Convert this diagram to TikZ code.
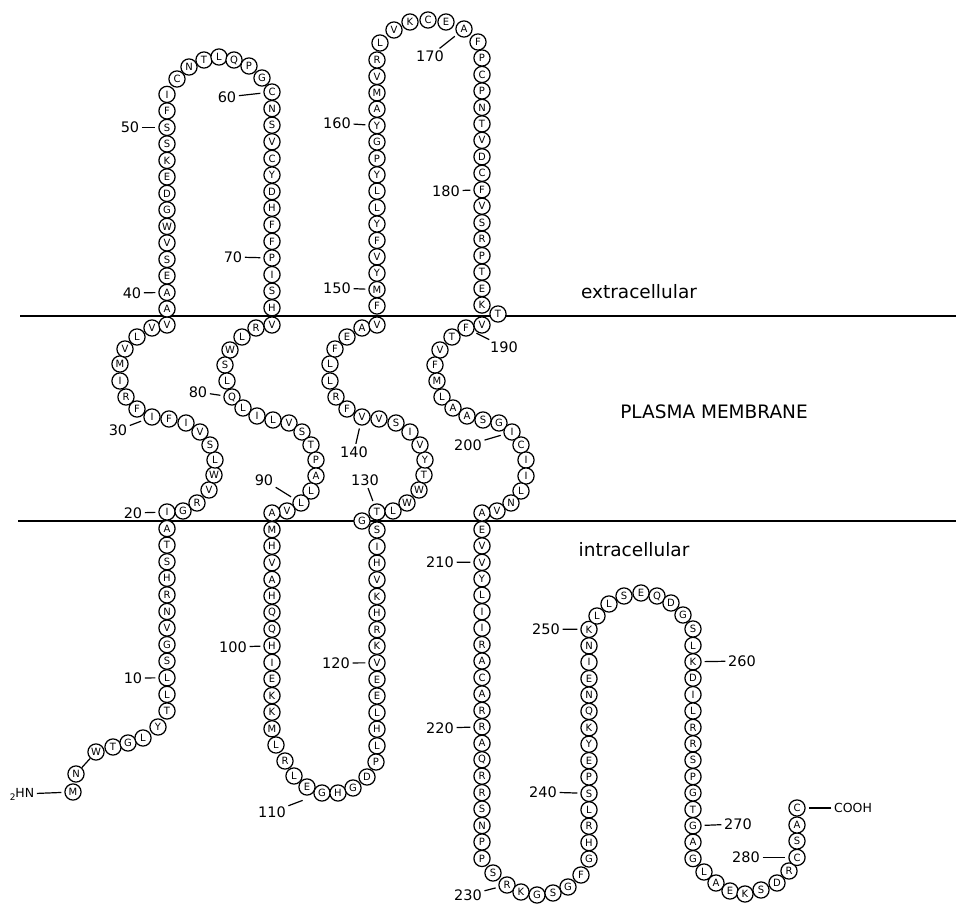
\documentclass[tikz,border=0pt]{standalone}
\usepackage{fontspec}
\setmainfont{DejaVu Sans}
\begin{document}
\begin{tikzpicture}[x=1pt,y=-1pt,
  res/.style={circle,draw,line width=1.25pt,fill=white,minimum size=16.2pt,inner sep=0pt,font=\fontsize{10}{10}\selectfont},
  num/.style={inner sep=1pt,font=\fontsize{14.5}{14.5}\selectfont},
  tick/.style={line width=1.2pt,shorten <=1.5pt,shorten >=3pt},
  link/.style={line width=1.2pt},
  memb/.style={line width=1.4pt},
  region/.style={inner sep=0pt,font=\fontsize{18.5}{19}\selectfont}]
\useasboundingbox (0,0) rectangle (956,905);
% membrane
\draw[memb] (20,316) -- (956,316);
\draw[memb] (18,521) -- (956,521);
% N-terminal tail
\foreach \n/\l/\x/\y in {1/M/73/792, 2/N/76/774, 3/W/96/752, 4/T/113/747, 5/G/128/743, 6/L/143/738, 7/Y/158/727}
  \node[res] (r\n) at (\x,\y) {\l};
\foreach \n/\l in {8/T,9/L,10/L,11/S,12/G,13/V,14/N,15/R,16/H,17/S,18/T,19/A}
  \node[res] (r\n) at (167,{512+(20-\n)*16.58}) {\l};
% TM1
\foreach \n/\l/\x/\y in {20/I/167/512, 21/G/183/511, 22/R/197/503, 23/V/209/490, 24/W/214/475, 25/L/215/460, 26/S/210/445, 27/V/200/432, 28/I/186/423, 29/F/169/419, 30/I/152/417, 31/F/137/409, 32/R/126/397, 33/I/120/381, 34/M/120/364, 35/V/125/349, 36/L/137/337, 37/V/152/328, 38/V/167/325}
  \node[res] (r\n) at (\x,\y) {\l};
% extracellular loop 1
\foreach \n/\l in {39/A,40/A,41/E,42/S,43/V,44/W,45/G,46/D,47/E,48/K,49/S,50/S,51/F,52/I}
  \node[res] (r\n) at (167,{325.4-(\n-38)*16.5}) {\l};
\foreach \n/\l/\x/\y in {53/C/177/79, 54/N/189/67, 55/T/204/60, 56/L/219/57, 57/Q/234/60, 58/P/249/66, 59/G/262/78}
  \node[res] (r\n) at (\x,\y) {\l};
\foreach \n/\l in {60/C,61/N,62/S,63/V,64/C,65/Y,66/D,67/H,68/F,69/F,70/P,71/I,72/S,73/H}
  \node[res] (r\n) at (272,{92+(\n-60)*16.6}) {\l};
% TM2
\foreach \n/\l/\x/\y in {74/V/272/325, 75/R/256/328, 76/L/242/337, 77/W/230/350, 78/S/225/365, 79/L/227/381, 80/Q/232/397, 81/L/243/408, 82/I/257/416, 83/L/273/420, 84/V/289/423, 85/S/302/432, 86/T/311/445, 87/P/316/460, 88/A/316/476, 89/L/311/491, 90/L/301/503, 91/V/287/511, 92/A/272/513}
  \node[res] (r\n) at (\x,\y) {\l};
% intracellular loop 2
\foreach \n/\l in {93/M,94/H,95/V,96/A,97/H,98/Q,99/Q,100/H,101/I,102/E,103/K,104/K,105/M}
  \node[res] (r\n) at (272,{513+(\n-92)*16.6}) {\l};
\foreach \n/\l/\x/\y in {106/L/276/745, 107/R/285/761, 108/L/294/776, 109/E/307/787, 110/G/322/793, 111/H/338/793, 112/G/353/788, 113/D/367/777, 114/P/376/762}
  \node[res] (r\n) at (\x,\y) {\l};
\foreach \n/\l in {115/L,116/H,117/L,118/E,119/E,120/V,121/K,122/R,123/H,124/K,125/V,126/H,127/I,128/S}
  \node[res] (r\n) at (377,{530+(128-\n)*16.6}) {\l};
\node[res] (r129) at (362,521) {G};
% TM3
\foreach \n/\l/\x/\y in {130/T/377/512, 131/L/393/511, 132/W/407/503, 133/W/419/490, 134/T/424/475, 135/Y/425/460, 136/V/420/445, 137/I/410/432, 138/S/396/423, 139/V/379/419, 140/V/362/417, 141/F/347/409, 142/R/336/397, 143/L/330/381, 144/L/330/364, 145/F/335/349, 146/E/347/337, 147/A/362/328, 148/V/377/325}
  \node[res] (r\n) at (\x,\y) {\l};
% extracellular loop 2
\foreach \n/\l in {149/F,150/M,151/Y,152/V,153/F,154/Y,155/L,156/L,157/Y,158/P,159/G,160/Y,161/A,162/M,163/V,164/R}
  \node[res] (r\n) at (377,{306-(\n-149)*16.4}) {\l};
\foreach \n/\l/\x/\y in {165/L/380/43, 166/V/394/30, 167/K/410/22, 168/C/428/20, 169/E/446/22, 170/A/464/29, 171/F/478/42}
  \node[res] (r\n) at (\x,\y) {\l};
\foreach \n/\l in {172/P,173/C,174/P,175/N,176/T,177/V,178/D,179/C,180/F,181/V,182/S,183/R,184/P,185/T,186/E,187/K}
  \node[res] (r\n) at (482,{58+(\n-172)*16.47}) {\l};
\node[res] (r188) at (498,314) {T};
% TM4
\foreach \n/\l/\x/\y in {189/V/482/325, 190/F/466/328, 191/T/452/337, 192/V/440/350, 193/F/435/365, 194/M/437/381, 195/L/442/397, 196/A/453/408, 197/A/467/416, 198/S/483/420, 199/G/499/423, 200/I/512/432, 201/C/521/445, 202/I/526/460, 203/I/526/476, 204/L/521/491, 205/N/511/503, 206/V/497/511, 207/A/482/513}
  \node[res] (r\n) at (\x,\y) {\l};
% intracellular loop 3
\foreach \n/\l in {208/E,209/V,210/V,211/Y,212/L,213/I,214/I,215/R,216/A,217/C,218/A,219/R,220/R,221/A,222/Q,223/R,224/R,225/S,226/N,227/P,228/P}
  \node[res] (r\n) at (482,{513+(\n-207)*16.45}) {\l};
\foreach \n/\l/\x/\y in {229/S/493/873, 230/R/507/885, 231/K/521/892, 232/G/537/895, 233/S/553/893, 234/G/568/887, 235/F/581/875}
  \node[res] (r\n) at (\x,\y) {\l};
\foreach \n/\l in {236/G,237/H,238/R,239/L,240/S,241/P,242/E,243/Y,244/K,245/Q,246/N,247/E,248/I,249/N,250/K}
  \node[res] (r\n) at (589,{859-(\n-236)*16.4}) {\l};
\foreach \n/\l/\x/\y in {251/L/597/616, 252/L/609/604, 253/S/624/596, 254/E/641/593, 255/Q/657/596, 256/D/671/603, 257/G/683/615}
  \node[res] (r\n) at (\x,\y) {\l};
% C-terminal tail
\foreach \n/\l in {258/S,259/L,260/K,261/D,262/I,263/L,264/R,265/R,266/S,267/P,268/G,269/T,270/G,271/A,272/G}
  \node[res] (r\n) at (693,{629+(\n-258)*16.4}) {\l};
\foreach \n/\l/\x/\y in {273/L/704/872, 274/A/716/883, 275/E/730/891, 276/K/745/894, 277/S/761/890, 278/D/777/883, 279/R/789/871, 280/C/797/857.4, 281/S/797/841, 282/A/797/825, 283/C/797/808}
  \node[res] (r\n) at (\x,\y) {\l};
% chain link
\draw[link] (r2) -- (r3);
% termini
\node[num,font=\fontsize{12.5}{13}\selectfont] (nterm) at (22,794) {\raisebox{-0.45ex}{\fontsize{9}{9}\selectfont 2}HN};
\draw[tick] (nterm) -- (r1);
\node[num,font=\fontsize{12.5}{13}\selectfont] (cterm) at (853,808) {COOH};
\draw[tick] (cterm) -- (r283);
% position labels
\foreach \n/\x/\y in {10/133/678, 20/133/513, 30/118/430, 40/132/293, 50/130/127.4, 60/227/97, 70/233/257, 80/198/392, 90/264/480, 100/233/647, 120/336/663, 130/365/480, 140/354/452, 150/337/288, 160/337/123, 170/430/56, 180/446/191, 190/504/347, 200/468/445, 210/440/562, 220/440/728, 230/468/895, 240/543/792, 250/546/629, 260/742/661, 270/738/824, 280/746/857.4}
  {\node[num] (n\n) at (\x,\y) {\n};
   \draw[tick] (n\n) -- (r\n);}
\node[num] (n110) at (272,812) {110};
\draw[tick,shorten >=12pt] (n110) -- (r110);
% regions
\node[region] (extra) at (639,292) {extracellular};
\node[region] (plasma) at (714,412) {PLASMA MEMBRANE};
\node[region] (intra) at (634,550) {intracellular};
\end{tikzpicture}
\end{document}
